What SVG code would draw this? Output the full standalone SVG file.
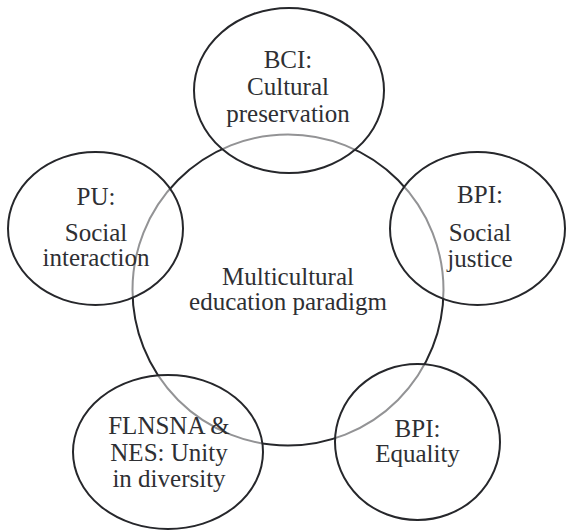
<svg xmlns="http://www.w3.org/2000/svg" width="566" height="531" viewBox="0 0 566 531">
<style>
.bg{fill:#ffffff}
.core{fill:none;stroke:#26272b;stroke-width:2}
.sat{fill:#ffffff;fill-opacity:0.5;stroke:#26272b;stroke-width:2}
text{font-family:"Liberation Serif","Times New Roman",serif;font-size:25px;fill:#2e2f33;text-anchor:middle}
</style>
<rect class="bg" x="0" y="0" width="566" height="531"/>
<g id="center">
<circle class="core" cx="288" cy="290" r="155.5"/>
<text x="288" y="285">Multicultural</text>
<text x="288" y="310">education paradigm</text>
</g>
<g id="connectors"></g>
<g id="bci">
<ellipse class="sat" cx="289" cy="90.5" rx="95" ry="82.5"/>
<text x="288" y="68">BCI:</text>
<text x="288" y="95">Cultural</text>
<text x="288" y="122">preservation</text>
</g>
<g id="pu">
<ellipse class="sat" cx="95.5" cy="228.5" rx="87.5" ry="76.5"/>
<text x="96" y="205">PU:</text>
<text x="96" y="241">Social</text>
<text x="96" y="266">interaction</text>
</g>
<g id="bpi-justice">
<ellipse class="sat" cx="477.5" cy="228.5" rx="87.5" ry="76.5"/>
<text x="480" y="203">BPI:</text>
<text x="480" y="241">Social</text>
<text x="480" y="267">justice</text>
</g>
<g id="flnsna">
<ellipse class="sat" cx="168" cy="452" rx="95" ry="77"/>
<text x="169" y="434">FLNSNA &amp;</text>
<text x="169" y="461">NES: Unity</text>
<text x="169" y="487">in diversity</text>
</g>
<g id="bpi-equality">
<ellipse class="sat" cx="417.5" cy="442" rx="82.5" ry="78"/>
<text x="417.5" y="437">BPI:</text>
<text x="417.5" y="462">Equality</text>
</g>
</svg>
